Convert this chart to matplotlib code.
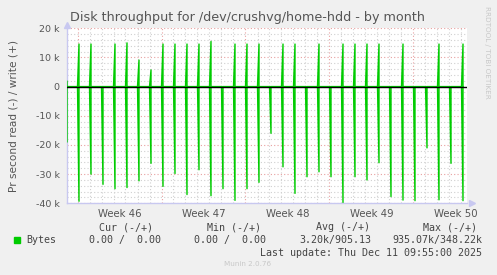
import matplotlib
matplotlib.use("Agg")
import matplotlib.pyplot as plt
import numpy as np

# === Data (k bytes/s, one spike per day, read = negative, write = positive) ===
days = np.arange(-1, 33)  # day index relative to Monday of week 46
read_k = [-19, -39.3, -30, -33.5, -35, -34.6, -32.3, -26.3, -34.2, -29.8, -37, -28.5,
          -37.4, -35, -39, -35, -32.8, -16, -27.5, -36.6, -30.9, -29.2, -30.9, -39.7,
          -30.9, -32, -26.1, -37.7, -38.9, -39.1, -21, -38.8, -26.3, -39.1]
write_k = [1.9, 14.6, 14.6, 0, 14.6, 15, 9.1, 5.7, 14.6, 14.6, 14.6, 14.6,
           15.5, 0, 14.6, 14.6, 14.6, 0, 14.6, 14.6, 0, 14.6, 0, 14.6,
           14.6, 14.6, 14.6, 0, 14.6, 0, 0, 14.6, 0, 14.6]
week_labels = ["Week 46", "Week 47", "Week 48", "Week 49", "Week 50"]
y_ticks = [20000, 10000, 0, -10000, -20000, -30000, -40000]
y_ticklabels = ["20 k", "10 k", "0", "-10 k", "-20 k", "-30 k", "-40 k"]

spike_hour = 3  # backup runs at ~03:00
x_left, x_right = -22, 780


def spikes(vals):
    xs, ys = [], []
    for d, v in zip(days, vals):
        t = d * 24 + spike_hour
        xs += [t - 3, t, t]
        ys += [0, v * 1000, 0]
    return np.array(xs), np.array(ys)


W, H = 497, 275
fig = plt.figure(figsize=(W / 100, H / 100), dpi=100)
fig.patch.set_facecolor("#F0F0F0")

ax_l, ax_r, ax_t, ax_b = 66.5, 467.5, 28.3, 203.3
ax = fig.add_axes([ax_l / W, 1 - ax_b / H, (ax_r - ax_l) / W, (ax_b - ax_t) / H])
ax.set_facecolor("white")
ax.set_xlim(x_left, x_right)
ax.set_ylim(-40000, 20000)

# grid
for h in np.arange(-24, x_right, 24):
    if h <= x_left:
        continue
    major = (h % 168) == 0
    ax.axvline(h, color="#E8A0A0" if major else "#D0D0D0", lw=0.8,
               linestyle=(0, (1, 2)), zorder=1)
for v in np.arange(-40000, 20001, 2000):
    major = (v % 10000) == 0
    ax.axhline(v, color="#E8A0A0" if major else "#D0D0D0", lw=0.8,
               linestyle=(0, (1, 2)), zorder=1)

# data
rx, ry = spikes(read_k)
wx, wy = spikes(write_k)
ax.plot(rx, ry, color="#00CC00", lw=1.0, zorder=3)
ax.plot(wx, wy, color="#00CC00", lw=1.0, zorder=3)
ax.axhline(0, color="black", lw=1.0, zorder=4)

# axes styling
for s in ["top", "right"]:
    ax.spines[s].set_visible(False)
for s in ["left", "bottom"]:
    ax.spines[s].set_color("#C8C8F0")
    ax.spines[s].set_linewidth(1.0)
ax.tick_params(length=0, colors="#555555", labelsize=6.8, pad=6)
ax.set_yticks(y_ticks)
ax.set_yticklabels(y_ticklabels)
ax.set_xticks([84 + 168 * i for i in range(len(week_labels))])
ax.set_xticklabels(week_labels)
for lbl in ax.get_xticklabels():
    lbl.set_fontsize(7.3)
    lbl.set_color("#555555")
ax.tick_params(axis="x", pad=4)
ax.tick_params(axis="y", pad=5)

# arrows at ends of axes
ax.plot([0], [1.02], marker="^", color="#C8C8F0", ms=5, transform=ax.transAxes, clip_on=False)
ax.plot([1.012], [0], marker=">", color="#C8C8F0", ms=5, transform=ax.transAxes, clip_on=False)


def px(x, y):
    return x / W, 1 - y / H


fig.text(*px(248, 18), "Disk throughput for /dev/crushvg/home-hdd - by month",
         ha="center", va="center", fontsize=9.2, color="#555555")
fig.text(*px(14, 116), "Pr second read (-) / write (+)", rotation=90,
         ha="center", va="center", fontsize=7.6, color="#555555")
fig.text(*px(487, 6), "RRDTOOL / TOBI OETIKER", rotation=-90,
         ha="center", va="top", fontsize=5.2, color="#C8C8C8")

mono = dict(family="DejaVu Sans Mono", fontsize=7.2, color="#444444", va="center")
fig.patches.append(plt.Rectangle(px(14, 243), 6 / W, 6 / H, transform=fig.transFigure,
                                 color="#00CC00"))
fig.text(*px(26, 240), "Bytes", **mono)
fig.text(*px(98.7, 227.5), "Cur (-/+)", **mono)
fig.text(*px(206.7, 227.5), "Min (-/+)", **mono)
fig.text(*px(315.7, 227.5), "Avg (-/+)", **mono)
fig.text(*px(423, 227.5), "Max (-/+)", **mono)
fig.text(*px(89, 240), "0.00 /  0.00", **mono)
fig.text(*px(194, 240), "0.00 /  0.00", **mono)
fig.text(*px(299.3, 240), "3.20k/905.13", **mono)
fig.text(*px(392.7, 240), "935.07k/348.22k", **mono)
fig.text(*px(482, 252.5), "Last update: Thu Dec 11 09:55:00 2025", ha="right", **mono)
fig.text(*px(248, 264), "Munin 2.0.76", ha="center", va="center", fontsize=5.2, color="#C8C8C8")

fig.savefig("out.png", dpi=100, facecolor=fig.get_facecolor())
